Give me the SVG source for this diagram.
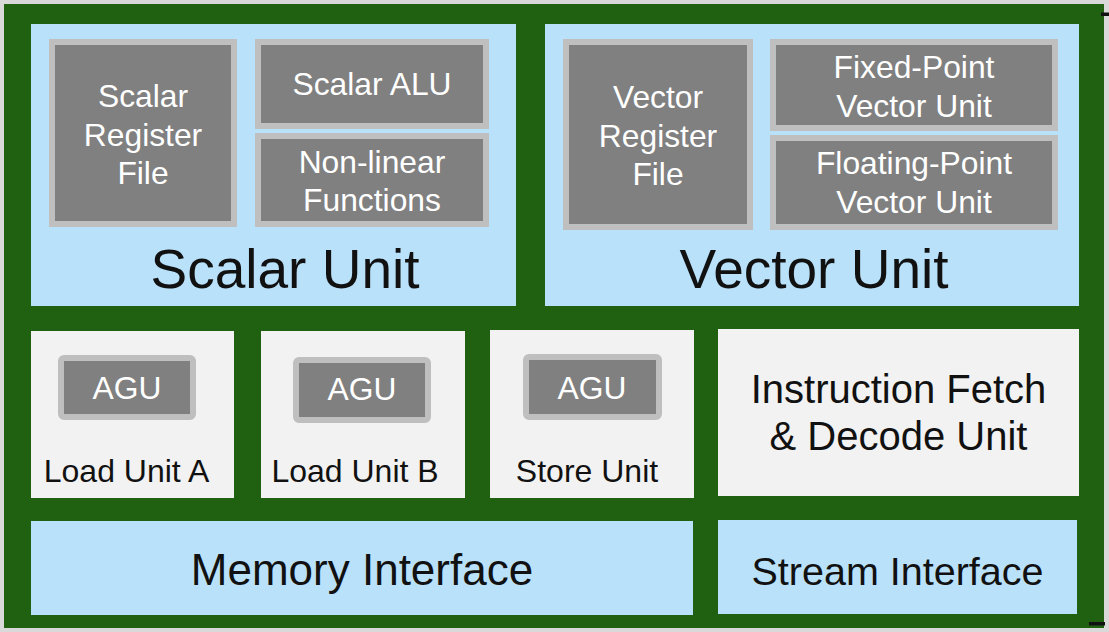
<svg xmlns="http://www.w3.org/2000/svg" width="1109" height="632" viewBox="0 0 1109 632">
<style>
text{font-family:"Liberation Sans",Arial,sans-serif;text-anchor:middle}
.blue{fill:#b9e1fa}
.light{fill:#f2f2f2}
.dark{fill:#808080;stroke:#bfbfbf;stroke-width:6}
.w{fill:#ffffff;font-size:31.8px}
.b{fill:#111111}
.mark{fill:#111111}
</style>
<rect x="0" y="0" width="1109" height="632" fill="#d9d9d9"/>
<rect id="frame" x="4" y="4" width="1100" height="624" fill="#1f6110"/>
<rect class="mark" x="1101" y="12.5" width="8" height="3.5"/>
<rect class="mark" x="1089" y="622" width="16" height="3.5"/>

<g id="scalar-unit">
<rect class="blue" x="31" y="24" width="485" height="282"/>
<text class="b" x="285" y="288" font-size="55">Scalar Unit</text>
</g>
<g id="scalar-register-file">
<rect class="dark" x="52" y="42" width="182" height="182"/>
<text class="w" x="143" y="106.5">Scalar</text>
<text class="w" x="143" y="145.5">Register</text>
<text class="w" x="143" y="184">File</text>
</g>
<g id="scalar-alu">
<rect class="dark" x="258" y="42" width="228" height="84"/>
<text class="w" x="372" y="95">Scalar ALU</text>
</g>
<g id="non-linear-functions">
<rect class="dark" x="258" y="136" width="228" height="88"/>
<text class="w" x="372" y="172.5">Non-linear</text>
<text class="w" x="372" y="211">Functions</text>
</g>

<g id="vector-unit">
<rect class="blue" x="545" y="24" width="534" height="282"/>
<text class="b" x="814" y="288" font-size="55">Vector Unit</text>
</g>
<g id="vector-register-file">
<rect class="dark" x="566" y="42" width="184" height="185"/>
<text class="w" x="658" y="108">Vector</text>
<text class="w" x="658" y="146.5">Register</text>
<text class="w" x="658" y="184.5">File</text>
</g>
<g id="fixed-point-vector-unit">
<rect class="dark" x="773" y="42" width="282" height="86"/>
<text class="w" x="914" y="78">Fixed-Point</text>
<text class="w" x="914" y="116.5">Vector Unit</text>
</g>
<g id="floating-point-vector-unit">
<rect class="dark" x="773" y="138" width="282" height="89"/>
<text class="w" x="914" y="174">Floating-Point</text>
<text class="w" x="914" y="212.5">Vector Unit</text>
</g>

<g id="load-unit-a">
<rect class="light" x="31" y="331" width="203" height="167"/>
<rect class="dark" x="61" y="358" width="132" height="59" rx="3"/>
<text class="w" x="127" y="399">AGU</text>
<text class="b" x="126.5" y="481.5" font-size="32">Load Unit A</text>
</g>
<g id="load-unit-b">
<rect class="light" x="261" y="331" width="204" height="167"/>
<rect class="dark" x="296" y="360" width="132" height="60" rx="3"/>
<text class="w" x="362" y="400">AGU</text>
<text class="b" x="355" y="481.5" font-size="32">Load Unit B</text>
</g>
<g id="store-unit">
<rect class="light" x="490" y="330" width="204" height="168"/>
<rect class="dark" x="526" y="357" width="133" height="60" rx="3"/>
<text class="w" x="592" y="399">AGU</text>
<text class="b" x="587" y="481.5" font-size="32">Store Unit</text>
</g>
<g id="instruction-fetch-decode-unit">
<rect class="light" x="718" y="329" width="361" height="167"/>
<text class="b" x="898.5" y="402.5" font-size="40">Instruction Fetch</text>
<text class="b" x="898.5" y="449.5" font-size="40">&amp; Decode Unit</text>
</g>

<g id="memory-interface">
<rect class="blue" x="31" y="521" width="662" height="94"/>
<text class="b" x="362" y="584.5" font-size="44">Memory Interface</text>
</g>
<g id="stream-interface">
<rect class="blue" x="718" y="520" width="359" height="94"/>
<text class="b" x="897.5" y="584.5" font-size="39.5">Stream Interface</text>
</g>

<g id="connectors"></g>
</svg>
